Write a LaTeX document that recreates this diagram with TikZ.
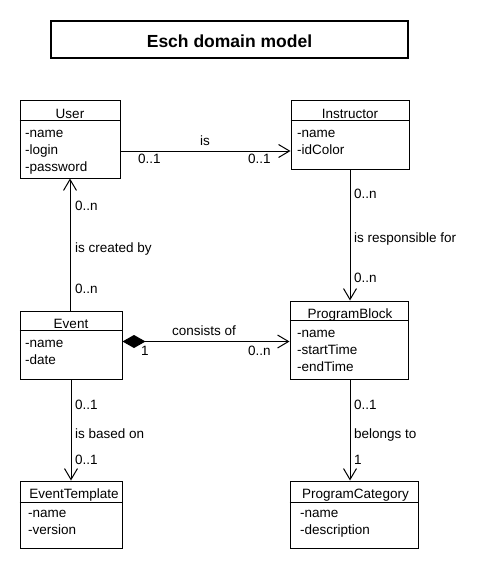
\documentclass[tikz,border=0pt]{standalone}
\usepackage{fontspec}
\setmainfont{Liberation Sans}
\usetikzlibrary{arrows.meta}
\begin{document}
\begin{tikzpicture}[x=1pt,y=-1pt,
  font=\fontsize{13.5}{16}\selectfont,
  cls/.style={draw,line width=1pt,rectangle,inner sep=0pt},
  sep/.style={line width=1pt},
  hdr/.style={anchor=base,inner sep=0pt},
  attr/.style={anchor=base west,inner sep=0pt},
  lbl/.style={anchor=base west,inner sep=0pt},
  assoc/.style={line width=1pt,-{Straight Barb[length=11pt,width=13pt]}},
  comp/.style={line width=1pt,{Diamond[length=23pt,width=13pt]}-{Straight Barb[length=11pt,width=13pt]}}
]
\useasboundingbox[fill=white] (0,0) rectangle (490,570);

% title
\node[cls,line width=2pt,minimum width=357pt,minimum height=37pt] (title) at (229.5,39.5) {};
\node[hdr,font=\fontsize{17.5}{20}\selectfont\bfseries] (titleT) at (229.5,47) {Esch domain model};

% User
\node[cls,minimum width=100pt,minimum height=78pt] (user) at (70,139) {};
\draw[sep] (user.west |- 0,120) -- (user.east |- 0,120);
\node[hdr] (userT) at (70,118) {User};
\node[attr] (userA1) at (25,137) {-name};
\node[attr] (userA2) at (25,154) {-login};
\node[attr] (userA3) at (25,171) {-password};

% Instructor
\node[cls,minimum width=118pt,minimum height=69pt] (instr) at (350,134.5) {};
\draw[sep] (instr.west |- 0,120) -- (instr.east |- 0,120);
\node[hdr] (instrT) at (350,118) {Instructor};
\node[attr] (instrA1) at (297,137) {-name};
\node[attr] (instrA2) at (297,154) {-idColor};

% Event
\node[cls,minimum width=102pt,minimum height=68pt] (event) at (71,345) {};
\draw[sep] (event.west |- 0,330) -- (event.east |- 0,330);
\node[hdr] (eventT) at (71,328) {Event};
\node[attr] (eventA1) at (25,347) {-name};
\node[attr] (eventA2) at (25,364) {-date};

% ProgramBlock
\node[cls,minimum width=118pt,minimum height=78pt] (pb) at (349,340) {};
\draw[sep] (pb.west |- 0,320) -- (pb.east |- 0,320);
\node[hdr] (pbT) at (350,318) {ProgramBlock};
\node[attr] (pbA1) at (297,337) {-name};
\node[attr] (pbA2) at (297,354) {-startTime};
\node[attr] (pbA3) at (297,371) {-endTime};

% EventTemplate
\node[cls,minimum width=102pt,minimum height=67pt] (et) at (71,514.5) {};
\draw[sep] (et.west |- 0,502) -- (et.east |- 0,502);
\node[hdr] (etT) at (74,498) {EventTemplate};
\node[attr] (etA1) at (28,517) {-name};
\node[attr] (etA2) at (28,534) {-version};

% ProgramCategory
\node[cls,minimum width=128pt,minimum height=67pt] (pc) at (354,514.5) {};
\draw[sep] (pc.west |- 0,502) -- (pc.east |- 0,502);
\node[hdr] (pcT) at (355.5,498) {ProgramCategory};
\node[attr] (pcA1) at (300,517) {-name};
\node[attr] (pcA2) at (300,534) {-description};

% connectors
\draw[assoc] (user.east |- 0,151) -- (instr.west |- 0,151);
\node[lbl] (l1) at (200,145) {is};
\node[lbl] (l1a) at (138,163) {0..1};
\node[lbl] (l1b) at (248,163) {0..1};

\draw[assoc] (user.south |- event.north) -- (user.south);
\node[lbl] (l2a) at (75,210) {0..n};
\node[lbl] (l2) at (75,252) {is created by};
\node[lbl] (l2b) at (75,293) {0..n};

\draw[assoc] (instr.south) -- (instr.south |- pb.north);
\node[lbl] (l3a) at (354,198) {0..n};
\node[lbl] (l3) at (354,242) {is responsible for};
\node[lbl] (l3b) at (354,282) {0..n};

\draw[comp] (event.east |- 0,341.5) -- (pb.west |- 0,341.5);
\node[lbl] (l4) at (172,335) {consists of};
\node[lbl] (l4a) at (141,355) {1};
\node[lbl] (l4b) at (248,355) {0..n};

\draw[assoc] (event.south) -- (event.south |- et.north);
\node[lbl] (l5a) at (75,409) {0..1};
\node[lbl] (l5) at (75,438) {is based on};
\node[lbl] (l5b) at (75,464) {0..1};

\draw[assoc] (pb.south -| instr.south) -- (instr.south |- pc.north);
\node[lbl] (l6a) at (354,409) {0..1};
\node[lbl] (l6) at (354,438) {belongs to};
\node[lbl] (l6b) at (354,464) {1};
\end{tikzpicture}
\end{document}
